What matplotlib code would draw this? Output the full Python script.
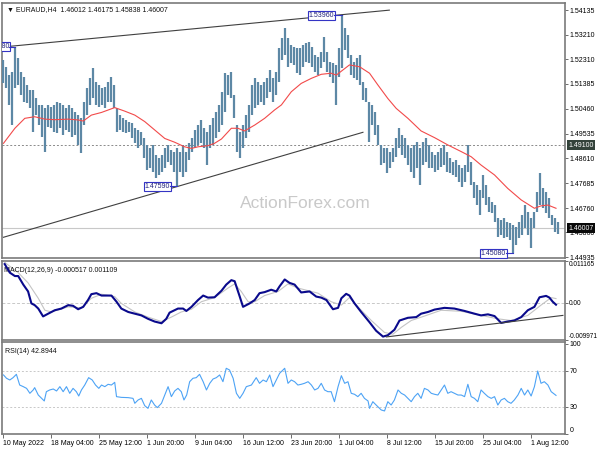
import matplotlib
matplotlib.use('Agg')
import matplotlib.pyplot as plt
import matplotlib.transforms as mtransforms

plt.rcParams['font.family'] = ['Liberation Sans', 'DejaVu Sans']

# ---------------- data ----------------
bar_high = [
    1.5227, 1.5202, 1.5171, 1.5184, 1.5277, 1.5233, 1.5184, 1.5165, 1.5134, 1.5116,
    1.5116, 1.5084, 1.5060, 1.5060, 1.5047, 1.5060, 1.5053, 1.5060, 1.5072, 1.5066,
    1.5060, 1.5047, 1.5060, 1.5047, 1.5035, 1.5022, 1.5010, 1.5072, 1.5122, 1.5159,
    1.5196, 1.5147, 1.5134, 1.5122, 1.5128, 1.5147, 1.5165, 1.5134, 1.5047, 1.5022,
    1.5010, 1.5004, 1.4998, 1.4991, 1.4973, 1.4967, 1.4960, 1.4935, 1.4911, 1.4898,
    1.4911, 1.4873, 1.4861, 1.4873, 1.4898, 1.4911, 1.4892, 1.4886, 1.4898, 1.4886,
    1.4911, 1.4886, 1.4917, 1.4935, 1.4967, 1.4985, 1.5004, 1.4973, 1.4960, 1.4985,
    1.5010, 1.5035, 1.5060, 1.5109, 1.5178, 1.5171, 1.5184, 1.5097, 1.4985, 1.4960,
    1.4985, 1.5022, 1.5060, 1.5134, 1.5159, 1.5147, 1.5134, 1.5147, 1.5159, 1.5190,
    1.5159, 1.5184, 1.5271, 1.5308, 1.5345, 1.5308, 1.5283, 1.5277, 1.5271, 1.5271,
    1.5283, 1.5289, 1.5296, 1.5277, 1.5246, 1.5240, 1.5258, 1.5314, 1.5258, 1.5221,
    1.5215, 1.5209, 1.5271, 1.5396, 1.5345, 1.5320, 1.5246, 1.5221, 1.5233, 1.5246,
    1.5147, 1.5122, 1.5072, 1.5060, 1.5035, 1.4985, 1.4911, 1.4898, 1.4898, 1.4886,
    1.4898, 1.4935, 1.4973, 1.4948, 1.4935, 1.4911, 1.4898, 1.4911, 1.4923, 1.4898,
    1.4923, 1.4935, 1.4911, 1.4886, 1.4873, 1.4886, 1.4898, 1.4911, 1.4886, 1.4861,
    1.4848, 1.4855, 1.4836, 1.4824, 1.4836, 1.4911, 1.4848, 1.4774, 1.4762, 1.4743,
    1.4799, 1.4762, 1.4718, 1.4700, 1.4687, 1.4637, 1.4631, 1.4637, 1.4625, 1.4619,
    1.4612, 1.4606, 1.4625, 1.4650, 1.4687, 1.4662, 1.4637, 1.4662, 1.4737, 1.4805,
    1.4749, 1.4737, 1.4712, 1.4650, 1.4637, 1.4625]
bar_low = [
    1.5140, 1.5122, 1.5060, 1.4985, 1.5122, 1.5134, 1.5097, 1.5072, 1.5066, 1.5047,
    1.4960, 1.5022, 1.4985, 1.4942, 1.4886, 1.4979, 1.4973, 1.4960, 1.4954, 1.4973,
    1.4948, 1.4967, 1.4960, 1.4942, 1.4948, 1.4911, 1.4880, 1.4985, 1.5022, 1.5060,
    1.5084, 1.5060, 1.5053, 1.5060, 1.5047, 1.5072, 1.5072, 1.5047, 1.4960, 1.4967,
    1.4960, 1.4954, 1.4960, 1.4935, 1.4917, 1.4898, 1.4911, 1.4861, 1.4817, 1.4824,
    1.4811, 1.4786, 1.4799, 1.4811, 1.4824, 1.4848, 1.4836, 1.4811, 1.4759, 1.4811,
    1.4793, 1.4811, 1.4855, 1.4886, 1.4898, 1.4911, 1.4917, 1.4898, 1.4836, 1.4898,
    1.4911, 1.4935, 1.4960, 1.4985, 1.5035, 1.5097, 1.5084, 1.5010, 1.4886, 1.4861,
    1.4898, 1.4935, 1.4960, 1.5022, 1.5047, 1.5060, 1.5072, 1.5060, 1.5084, 1.5109,
    1.5072, 1.5097, 1.5147, 1.5227, 1.5246, 1.5202, 1.5215, 1.5209, 1.5178, 1.5171,
    1.5202, 1.5221, 1.5215, 1.5202, 1.5184, 1.5171, 1.5196, 1.5221, 1.5184, 1.5165,
    1.5140, 1.5060, 1.5165, 1.5196, 1.5264, 1.5233, 1.5171, 1.5159, 1.5153, 1.5134,
    1.5078, 1.5072, 1.4923, 1.4985, 1.4948, 1.4911, 1.4836, 1.4842, 1.4805, 1.4824,
    1.4848, 1.4867, 1.4898, 1.4873, 1.4861, 1.4836, 1.4811, 1.4786, 1.4824, 1.4762,
    1.4836, 1.4848, 1.4824, 1.4824, 1.4811, 1.4817, 1.4830, 1.4836, 1.4811, 1.4805,
    1.4799, 1.4793, 1.4774, 1.4755, 1.4774, 1.4811, 1.4762, 1.4712, 1.4687, 1.4650,
    1.4712, 1.4687, 1.4662, 1.4656, 1.4625, 1.4569, 1.4575, 1.4563, 1.4569, 1.4557,
    1.4508, 1.4538, 1.4563, 1.4575, 1.4600, 1.4575, 1.4526, 1.4600, 1.4662, 1.4687,
    1.4675, 1.4656, 1.4637, 1.4612, 1.4588, 1.4581]

ma_pos = [0, 3.8, 7.1, 10.4, 13.8, 17.1, 21.6, 24.9, 26.6, 29.3,
          32.7, 37.1, 40.4, 43.8, 47.1, 50.4, 53.8, 57.1, 60.4, 62.7,
          64.9, 68.2, 70.4, 72.7, 76.0, 78.2, 80.4, 83.8, 87.1, 90.4,
          92.7, 96.0, 99.3, 102.7, 106.0, 109.3, 111.0, 113.2, 115.4, 118.8,
          122.1, 124.9, 128.2, 131.0, 134.9, 139.3, 143.8, 148.2, 152.7, 156.0,
          159.3, 163.8, 168.2, 172.7, 177.1, 179.3, 181.6, 184.3]
ma_val = [1.4917, 1.4973, 1.5010, 1.5016, 1.5007, 1.5005, 1.5007, 1.5004, 1.5000, 1.5022,
          1.5032, 1.5050, 1.5037, 1.5022, 1.4998, 1.4967, 1.4935, 1.4921, 1.4904, 1.4898,
          1.4904, 1.4908, 1.4917, 1.4933, 1.4973, 1.4973, 1.4963, 1.4985, 1.5010, 1.5041,
          1.5060, 1.5109, 1.5140, 1.5159, 1.5174, 1.5178, 1.5171, 1.5190, 1.5209, 1.5202,
          1.5178, 1.5134, 1.5084, 1.5047, 1.5010, 1.4963, 1.4938, 1.4911, 1.4886, 1.4867,
          1.4836, 1.4799, 1.4749, 1.4706, 1.4675, 1.4684, 1.4687, 1.4675]

# MACD values in thousandths
macd_pos = [0.4, 2.1, 3.8, 4.9, 6.6, 8.2, 9.3, 10.4, 11.6, 13.2,
            14.9, 17.1, 19.3, 21.6, 23.2, 24.9, 26.6, 28.2, 29.3, 31.0,
            32.7, 36.0, 37.7, 39.3, 41.6, 43.8, 46.0, 48.2, 50.4, 52.7,
            54.3, 55.4, 58.2, 59.9, 61.0, 62.7, 64.9, 66.6, 68.2, 70.4,
            72.7, 74.3, 76.0, 77.1, 78.8, 79.9, 82.1, 83.8, 85.4, 87.1,
            89.3, 91.0, 92.1, 93.8, 95.4, 97.1, 99.3, 102.1, 104.3, 106.0,
            107.7, 109.9, 111.6, 112.7, 114.3, 115.4, 117.1, 119.3, 122.1, 124.3,
            126.6, 128.2, 130.4, 132.1, 134.9, 137.7, 139.3, 141.6, 143.8, 147.1,
            150.4, 153.8, 157.1, 159.3, 161.6, 163.8, 166.0, 168.2, 170.4, 172.7,
            174.9, 177.1, 178.8, 181.0, 182.1, 183.2, 184.3]
macd_val = [10.34, 8.05, 7.14, 7.14, 4.85, 3.02, -0.18, -0.64, -1.56, -3.66,
            -2.93, -2.01, -1.56, -0.64, -0.82, -1.74, -1.10, 0.73, 2.29, 2.56,
            1.92, 1.92, 0.27, -1.56, -2.47, -2.93, -3.39, -4.30, -5.03, -5.49,
            -4.30, -2.65, -1.56, -1.56, -2.20, -1.10, 0.73, 1.92, 1.37, 1.46,
            3.20, 4.85, 6.04, 5.76, 1.65, -1.10, -0.18, 0.73, 2.56, 2.84,
            3.48, 3.02, 4.39, 6.22, 5.31, 4.85, 2.75, 3.02, 1.65, 1.37,
            0.73, -1.74, -1.37, 1.19, 2.38, 1.92, -0.18, -2.47, -5.22, -7.50,
            -9.06, -8.69, -7.23, -4.76, -4.03, -3.84, -2.93, -2.47, -1.83, -1.37,
            -1.56, -2.20, -2.93, -3.39, -3.11, -3.57, -5.40, -5.03, -4.76, -3.84,
            -2.01, -1.10, 1.46, 1.83, 1.37, 0.27, -0.52]
sig_pos = [0.4, 4.9, 8.2, 11.6, 13.8, 16.0, 21.6, 26.0, 29.3, 32.7,
           37.1, 39.3, 43.8, 48.2, 52.7, 56.0, 59.3, 62.7, 66.0, 70.4,
           74.9, 77.1, 79.3, 81.6, 83.8, 87.1, 91.6, 94.9, 98.2, 104.9,
           109.3, 112.7, 115.4, 118.8, 122.7, 127.1, 129.9, 132.7, 136.0, 140.4,
           146.0, 152.7, 159.3, 164.9, 169.3, 174.9, 179.3, 182.7, 184.3]
sig_val = [10.80, 8.05, 5.31, 1.19, -2.01, -2.47, -1.10, -1.37, 1.19, 2.29,
           1.65, -0.18, -2.47, -3.84, -5.03, -3.84, -2.47, -1.74, 0.27, 1.37,
           3.93, 5.03, 3.02, 0.27, 0.27, 1.92, 3.02, 5.03, 3.93, 2.56,
           0.27, -0.64, 1.37, -1.56, -4.76, -7.96, -8.42, -6.59, -4.76, -3.57,
           -2.01, -2.29, -3.39, -4.30, -4.76, -3.39, -0.64, 1.37, 1.11]

rsi_pos = [0, 1.0, 2.1, 3.2, 4.3, 5.4, 6.6, 7.7, 8.8, 9.9,
           10.4, 11.6, 12.7, 13.6, 14.3, 15.4, 16.6, 17.7, 18.8, 19.9,
           21.0, 22.1, 23.2, 24.3, 25.1, 26.0, 27.1, 28.4, 29.6, 30.7,
           31.8, 32.7, 33.8, 34.9, 36.0, 37.1, 37.7, 39.3, 41.6, 43.2,
           43.8, 44.9, 46.0, 47.1, 48.2, 49.3, 50.4, 51.3, 52.7, 53.8,
           54.9, 56.0, 57.1, 58.2, 59.3, 60.2, 61.1, 62.1, 63.2, 64.3,
           65.4, 66.6, 67.7, 68.8, 69.9, 71.0, 72.1, 73.2, 74.3, 75.4,
           76.6, 77.7, 78.8, 79.9, 81.0, 82.7, 84.3, 85.4, 86.6, 87.7,
           88.8, 89.9, 91.0, 92.1, 93.8, 94.9, 96.0, 97.1, 98.2,
           99.3, 100.4, 101.6, 102.7, 103.8, 104.9, 106.0, 107.1, 108.2, 109.3,
           110.4, 111.6, 112.7, 113.8, 114.9, 116.0, 117.1, 118.2, 119.3, 120.4,
           121.6, 122.1, 123.2, 124.3, 126.0, 127.1, 128.2, 129.3, 130.4, 131.6,
           132.7, 133.8, 134.9, 136.0, 137.1, 138.2, 139.3, 140.4, 141.6, 142.7,
           143.8, 144.9, 146.0, 147.1, 148.2, 149.3, 150.4, 151.6, 152.7, 153.8,
           154.9, 156.0, 157.1, 158.2, 159.3, 160.4, 161.6, 162.7, 163.8, 164.9,
           166.0, 167.1, 168.2, 169.3, 170.4, 171.6, 172.7, 173.8, 174.9, 176.0,
           177.1, 178.2, 179.3, 180.4, 181.6, 182.7, 183.8, 184.3]
rsi_val = [65.6, 61.9, 60.0, 62.6, 66.3, 54.4, 52.6, 50.7, 45.2, 48.9,
           51.5, 43.3, 39.6, 36.7, 47.0, 48.9, 50.0, 47.8, 52.6, 47.0,
           52.6, 45.2, 50.7, 47.0, 42.2, 48.9, 54.4, 62.6, 60.0, 54.4,
           50.7, 54.4, 52.6, 55.2, 54.4, 57.4, 41.5, 40.7, 40.4, 39.6,
           34.1, 37.8, 39.6, 31.5, 28.5, 37.8, 32.2, 29.3, 34.1, 43.3,
           52.6, 41.5, 47.8, 50.7, 47.0, 37.8, 43.3, 58.1, 61.9, 62.6,
           66.3, 58.1, 48.9, 56.3, 61.1, 62.6, 65.6, 58.1, 73.0, 71.1,
           61.9, 45.2, 39.6, 45.2, 52.6, 54.4, 62.6, 56.3, 60.0, 58.1,
           65.6, 52.6, 60.0, 67.4, 73.0, 56.3, 60.0, 58.1, 54.4,
           55.2, 56.3, 58.1, 54.4, 48.9, 50.7, 56.3, 48.9, 47.0, 47.0,
           35.9, 52.6, 64.8, 56.3, 58.1, 45.2, 44.1, 41.5, 45.2, 39.6,
           36.7, 28.5, 35.9, 32.2, 26.7, 25.6, 35.9, 32.2, 37.8, 48.9,
           45.2, 43.3, 39.6, 35.9, 41.5, 45.2, 39.6, 50.7, 48.9, 45.2,
           44.1, 43.3, 48.9, 54.4, 45.2, 47.0, 45.2, 43.3, 43.3, 41.5,
           55.2, 41.5, 39.6, 35.9, 48.9, 45.2, 41.5, 39.6, 41.5, 32.2,
           37.8, 39.6, 35.9, 34.1, 37.8, 43.3, 50.7, 43.3, 48.9, 42.2,
           52.6, 70.0, 56.3, 58.1, 54.4, 47.0, 44.1, 42.9]

price_ticks = [1.54135, 1.53210, 1.52310, 1.51385, 1.50460, 1.49535,
               1.48610, 1.47685, 1.46760, 1.45860, 1.44935]
date_labels = ['10 May 2022', '18 May 04:00', '25 May 12:00', '1 Jun 20:00',
               '9 Jun 04:00', '16 Jun 12:00', '23 Jun 20:00', '1 Jul 04:00',
               '8 Jul 12:00', '15 Jul 20:00', '25 Jul 04:00', '1 Aug 12:00']
date_pos = [0, 16, 32, 48, 64, 80, 96, 112, 128, 144, 160, 176]

upper_line = ([0, 128.7], [1.5276, 1.5413])
lower_line = ([0, 119.9], [1.4567, 1.4958])
macd_trend = ([127.7, 186.6], [-9.15, -3.39])
level_resist = 1.49100
last_price = 1.46007
ohlc_title = 'EURAUD,H4  1.46012 1.46175 1.45838 1.46007'

# ---------------- figure ----------------
W, H = 600, 450
fig = plt.figure(figsize=(6, 4.5), dpi=100)
fig.patch.set_facecolor('white')


def rect(x0, y0, x1, y1):
    return [x0 / W, 1 - y1 / H, (x1 - x0) / W, (y1 - y0) / H]


ax1 = fig.add_axes(rect(2, 3, 565, 258))
ax2 = fig.add_axes(rect(2, 261, 565, 340))
ax3 = fig.add_axes(rect(2, 342, 565, 434))

FS = 5.0
XL = (-0.5, 187.3)
for ax in (ax1, ax2, ax3):
    ax.set_xlim(*XL)
    for s in ax.spines.values():
        s.set_color('#7a7a7a')
        s.set_linewidth(1.2)
    ax.yaxis.tick_right()
    ax.tick_params(axis='y', direction='out', length=2.5, width=0.6,
                   colors='#555555', labelcolor='black', labelsize=FS, pad=1.0)
    ax.tick_params(axis='x', bottom=False, labelbottom=False)

# ----- main price panel -----
xs = list(range(len(bar_high)))
ax1.vlines(xs, bar_low, bar_high, color='#5d88a5', linewidth=1.6, zorder=3)
ax1.plot(ma_pos, ma_val, color='#f24a4a', linewidth=0.8, zorder=4)
ax1.plot(*upper_line, color='#404040', linewidth=0.8, zorder=5)
ax1.plot(*lower_line, color='#404040', linewidth=0.8, zorder=5)
ax1.axhline(level_resist, color='#8a8a8a', linewidth=0.7, linestyle=(0, (2, 2)), zorder=2)
ax1.axhline(last_price, color='#c8c8c8', linewidth=0.8, zorder=2)
ax1.set_ylim(1.44898, 1.54396)
ax1.set_yticks(price_ticks)
ax1.set_yticklabels(['%.5f' % v for v in price_ticks])

ax1.text(0.009, 0.988, '\u25bc ' + ohlc_title, transform=ax1.transAxes,
         fontsize=FS, va='top', ha='left', color='#111111')
fig.text(305 / W, 1 - 203 / H, 'ActionForex.com', fontsize=12.5,
         color='#c9c9c9', ha='center', va='center', zorder=0)

box_kw = dict(boxstyle='square,pad=0.12', fc='white', ec='#3434c4', lw=0.8)
lab_col = '#23237a'
ax1.text(110.3, 1.53935, '1.53960', fontsize=FS, color=lab_col, ha='right',
         va='center', bbox=box_kw, zorder=6)
ax1.plot([110.3, 113], [1.5396, 1.5396], color='#3434c4', lw=0.8, zorder=6)
ax1.text(55.6, 1.4757, '1.47590', fontsize=FS, color=lab_col, ha='right',
         va='center', bbox=box_kw, zorder=6)
ax1.plot([55.6, 58], [1.4759, 1.4759], color='#3434c4', lw=0.8, zorder=6)
ax1.text(167.6, 1.4507, '1.45080', fontsize=FS, color=lab_col, ha='right',
         va='center', bbox=box_kw, zorder=6)
ax1.plot([167.6, 170], [1.4508, 1.4508], color='#3434c4', lw=0.8, zorder=6)
ax1.text(2.0, 1.5277, '1.52780', fontsize=FS, color=lab_col, ha='right',
         va='center', bbox=box_kw, zorder=6, clip_on=True)
ax1.plot([2.0, 4], [1.5277, 1.5277], color='#3434c4', lw=0.8, zorder=6)

trans = mtransforms.blended_transform_factory(ax1.transAxes, ax1.transData)
ax1.text(1.006, level_resist, '%.5f' % level_resist, transform=trans, fontsize=FS,
         color='white', ha='left', va='center', clip_on=False, zorder=10,
         bbox=dict(boxstyle='square,pad=0.2', fc='#33423a', ec='none'))
ax1.text(1.006, last_price, '%.5f' % last_price, transform=trans, fontsize=FS,
         color='white', ha='left', va='center', clip_on=False, zorder=10,
         bbox=dict(boxstyle='square,pad=0.2', fc='#0a0a0a', ec='none'))

# ----- MACD panel -----
ax2.plot(sig_pos, sig_val, color='#c4c4c4', linewidth=0.8, zorder=3)
ax2.plot(macd_pos, macd_val, color='#0a0a8c', linewidth=1.5, zorder=4)
ax2.plot(*macd_trend, color='#404040', linewidth=0.8, zorder=5)
ax2.axhline(0, color='#c8c8c8', linewidth=0.7, linestyle=(0, (3, 2)), zorder=2)
ax2.set_ylim(-9.971, 11.165)
ax2.set_yticks([11.165, 0, -9.971])
ax2.set_yticklabels(['0.011165', '0.00', '-0.009971'])
ax2.tick_params(axis='y', pad=0.5, labelsize=4.7)
tl = ax2.get_yticklabels()
tl[0].set_va('top')
tl[2].set_va('bottom')
ax2.text(0.003, 0.93, 'MACD(12,26,9) -0.000517 0.001109', transform=ax2.transAxes,
         fontsize=FS, va='top', ha='left', color='#111111')

# ----- RSI panel -----
ax3.plot(rsi_pos, rsi_val, color='#4da3f5', linewidth=0.8, zorder=3)
for lvl in (70, 30):
    ax3.axhline(lvl, color='#c8c8c8', linewidth=0.7, linestyle=(0, (2, 2)), zorder=2)
ax3.set_ylim(0, 102.2)
ax3.set_yticks([100, 70, 30, 0])
ax3.set_yticklabels(['100', '70', '30', '0'])
tl3 = ax3.get_yticklabels()
tl3[3].set_va('bottom')
ax3.text(0.006, 0.93, 'RSI(14) 42.8944', transform=ax3.transAxes,
         fontsize=FS, va='top', ha='left', color='#111111')
ax3.tick_params(axis='x', bottom=True, labelbottom=True, direction='out',
                length=3, width=0.6, colors='#555555', labelcolor='black',
                labelsize=FS, pad=1.5)
ax3.set_xticks(date_pos)
ax3.set_xticklabels(date_labels, ha='left')

fig.savefig('out.png', dpi=100, facecolor='white')
